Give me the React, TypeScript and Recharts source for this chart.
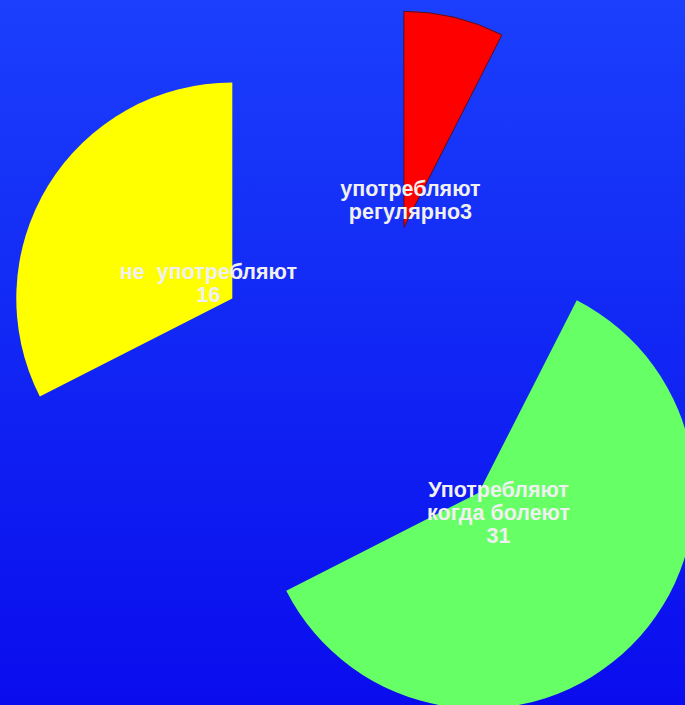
import { PieChart, Pie, Cell } from 'recharts'

// slice names, colours and the text printed on each slice
const categories = ['употребляют регулярно', 'Употребляют когда болеют', 'не  употребляют']
// sector sizes (27°, 216°, 117°)
const shares = [3, 24, 13]
// numbers as printed on the slide
const printedValues = ['3', '31', '16']
const labelLines = [
  ['употребляют', 'регулярно' + printedValues[0]],
  ['Употребляют', 'когда болеют', printedValues[1]],
  ['не  употребляют', printedValues[2]],
]
const colors = ['#ff0000', '#66ff66', '#ffff00']

const W = 685
const H = 705
const CENTER_X = 367
const CENTER_Y = 381
const EXPLODE = 158
const RADIUS = 216
const RAD = Math.PI / 180

const data = categories.map((name, i) => ({ name, value: shares[i] }))
const total = shares.reduce((a, b) => a + b, 0)

// clockwise degrees from 12 o'clock to the middle of each slice
const midAngles = shares.map((v, i) => {
  const before = shares.slice(0, i).reduce((a, b) => a + b, 0)
  return ((before + v / 2) / total) * 360
})

function makeLabel(slice: number) {
  return (props: any) => {
    if (props.index !== slice) return null
    const r = 28
    const x = props.cx + r * Math.cos(-props.midAngle * RAD)
    const y = props.cy + r * Math.sin(-props.midAngle * RAD)
    const lines = labelLines[slice]
    const lh = 23
    const first = y - ((lines.length - 1) * lh) / 2 + 7
    return (
      <text
        x={x}
        y={first}
        textAnchor="middle"
        fill="#f0f0f0"
        fontSize={21.5}
        fontWeight="bold"
        fontFamily="'Liberation Sans', Arial, sans-serif"
      >
        {lines.map((l, k) => (
          <tspan key={k} x={x} dy={k === 0 ? 0 : lh} style={{ whiteSpace: 'pre' }}>
            {l}
          </tspan>
        ))}
      </text>
    )
  }
}

export default function App() {
  return (
    <div
      style={{
        position: 'fixed',
        left: 0,
        top: 0,
        width: W,
        height: H,
        background: 'linear-gradient(to bottom, #1b3ffc 0%, #1126f4 50%, #0a0cee 100%)',
        overflow: 'hidden',
      }}
    >
      <PieChart width={W} height={H} margin={{ top: 0, right: 0, bottom: 0, left: 0 }}>
        {categories.map((_, s) => (
          <Pie
            key={s}
            data={data}
            dataKey="value"
            nameKey="name"
            cx={CENTER_X + EXPLODE * Math.sin(midAngles[s] * RAD)}
            cy={CENTER_Y - EXPLODE * Math.cos(midAngles[s] * RAD)}
            outerRadius={RADIUS}
            startAngle={90}
            endAngle={-270}
            stroke="none"
            label={makeLabel(s)}
            labelLine={false}
            isAnimationActive={false}
          >
            {data.map((_, i) => (
              <Cell
                key={i}
                fill={i === s ? colors[i] : 'none'}
                stroke={i === s && i === 0 ? '#50102a' : 'none'}
                strokeWidth={1}
              />
            ))}
          </Pie>
        ))}
      </PieChart>
    </div>
  )
}
